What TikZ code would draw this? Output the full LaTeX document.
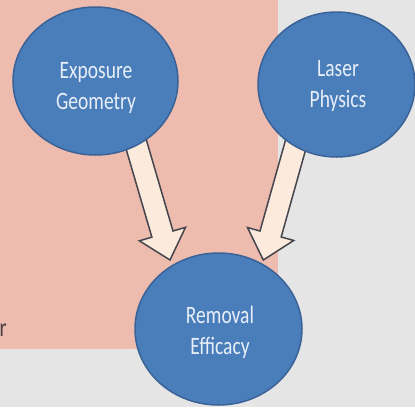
\documentclass[tikz,border=0pt]{standalone}
\usepackage{fontspec}
\setmainfont{Carlito}
\usepackage{graphicx}
\usetikzlibrary{shapes.geometric,calc}
\definecolor{bggray}{HTML}{E5E5E5}
\definecolor{pinkbg}{HTML}{EEBCAF}
\definecolor{circfill}{HTML}{4A7EBB}
\definecolor{circline}{HTML}{3A6296}
\definecolor{arrfill}{HTML}{FCEBDC}
\definecolor{arrline}{HTML}{45454D}
\definecolor{lbltext}{HTML}{E8EFF8}
\definecolor{darktext}{HTML}{4A3F3F}
\newcommand\nx[1]{\scalebox{0.78}[1]{#1}}
\newcommand\blockarrow[2]{%
  \coordinate (h) at ($(#2)!27pt!(#1)$);
  \draw[barrow] ($(#1)!11pt!90:(#2)$) -- ($(h)!11pt!90:(#2)$) -- ($(h)!24pt!90:(#2)$)
    -- (#2) -- ($(h)!24pt!-90:(#2)$) -- ($(h)!11pt!-90:(#2)$) -- ($(#1)!11pt!-90:(#2)$) -- cycle;}
\tikzset{
  bubble/.style={ellipse, draw=circline, line width=1.5pt, fill=circfill, inner sep=0pt},
  lbl/.style={text=lbltext, align=center, font=\fontsize{25}{31}\selectfont, inner sep=0pt},
  barrow/.style={draw=arrline, line width=1.5pt, fill=arrfill, line join=miter},
}
\begin{document}
\begin{tikzpicture}[x=1pt,y=-1pt]
\useasboundingbox (0,0) rectangle (415,407);
\clip (0,0) rectangle (415,407);
\fill[bggray] (0,0) rectangle (415,407);
\fill[pinkbg] (0,0) rectangle (278,349);
\node[text=darktext, font=\fontsize{26}{30}\selectfont, anchor=base east, inner sep=0pt] (frag) at (7,336) {\nx{r}};
% arrow end points
\coordinate (s1) at (125,106);
\coordinate (t1) at (170,260);
\coordinate (s2) at (306.5,106);
\coordinate (t2) at (263.3,260);
\blockarrow{s1}{t1}
\blockarrow{s2}{t2}
% bubbles
\node[bubble, minimum width=165pt, minimum height=148pt] (eg) at (95.5,81) {};
\node[bubble, minimum width=157pt, minimum height=145pt] (lp) at (336.5,84.5) {};
\node[bubble, minimum width=167pt, minimum height=152pt] (re) at (218.5,329) {};
% labels
\node[lbl] (egt) at (96,88) {\nx{Exposure}\\\nx{Geometry}};
\node[lbl] (lpt) at (338,86) {\nx{Laser}\\\nx{Physics}};
\node[lbl] (ret) at (220,332) {\nx{Removal}\\\nx{Efficacy}};
\end{tikzpicture}
\end{document}
